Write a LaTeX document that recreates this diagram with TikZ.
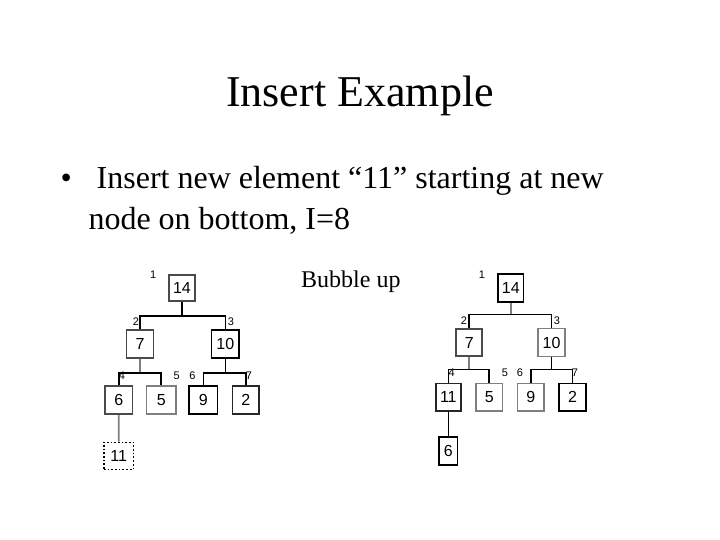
\documentclass[tikz,border=0pt]{standalone}
\usepackage{fontspec}
\setmainfont{Liberation Serif}
\newfontfamily\arialf{Liberation Sans}
\definecolor{lgray}{HTML}{7F7F7F}
\definecolor{mgray}{HTML}{4A4A4A}
\begin{document}
\begin{tikzpicture}[x=1pt,y=-1pt,
  box/.style={draw=black, line width=1.7pt, inner sep=0pt, minimum width=27.5pt, minimum height=28.5pt,
    font=\arialf\fontsize{16}{16}\selectfont},
  lbl/.style={inner sep=0pt, font=\arialf\fontsize{11}{11}\selectfont},
  edge/.style={line width=1.6pt, draw=black},
  gedge/.style={line width=1.6pt, draw=lgray}]
\useasboundingbox (0,0) rectangle (720,540);
% texts
\node[anchor=base, inner sep=0pt, font=\fontsize{44}{44}\selectfont] (title) at (360,107) {Insert Example};
\node[anchor=base west, inner sep=0pt, font=\fontsize{32}{32}\selectfont] (bul) at (60.5,189) {•};
\node[anchor=base west, inner sep=0pt, font=\fontsize{32}{32}\selectfont] (l1) at (96.5,188.5) {Insert new element “11” starting at new};
\node[anchor=base west, inner sep=0pt, font=\fontsize{32}{32}\selectfont] (l2) at (88.3,229.5) {node on bottom, I=8};
\node[anchor=base west, inner sep=0pt, font=\fontsize{24}{24}\selectfont] (bub) at (301,287) {Bubble up};
% left tree
\node[box, draw=mgray, minimum width=25.7pt, minimum height=26.6pt] (a14) at (182,288) {14};
\node[box, draw=mgray, minimum width=26.9pt, minimum height=28.3pt] (a7) at (140,344) {7};
\node[box, minimum width=27.6pt, minimum height=28.3pt] (a10) at (225.3,344) {10};
\node[box, draw=mgray, minimum width=27.3pt, minimum height=28.3pt] (a6) at (118.8,400) {6};
\node[box, draw=lgray, minimum width=29.3pt, minimum height=28.3pt] (a5) at (161.2,400) {5};
\node[box, minimum width=28.3pt, minimum height=28.3pt] (a9) at (203.3,400) {9};
\node[box, draw=black!85, minimum width=26.6pt, minimum height=28.3pt] (a2) at (245.8,400) {2};
\node[box, dotted, line width=1.2pt, minimum width=29.5pt, minimum height=27.1pt] (a11) at (118.7,455.8) {11};
\coordinate (ab1) at (182,316);
\coordinate (ab2) at (140,372.7);
\coordinate (ab3) at (225.3,372.7);
\draw[edge] (a14) -- (ab1);
\draw[edge] (a7.north) |- (ab1) -| (a10.north);
\draw[gedge] (a7) -- (ab2);
\draw[edge] (a6.north) |- (ab2) -| (a5.north);
\draw[edge] (a10) -- (ab3);
\draw[edge] (a9.north) |- (ab3) -| (a2.north);
\draw[gedge] (a6) -- (a11);
\node[lbl] (al1) at (153.3,275) {1};
\node[lbl] (al2) at (136,321.5) {2};
\node[lbl] (al3) at (231,321.5) {3};
\node[lbl] (al4) at (122,376) {4};
\node[lbl] (al5) at (176.7,376) {5};
\node[lbl] (al6) at (192.5,376) {6};
\node[lbl] (al7) at (249,376) {7};
% right tree
\node[box, minimum width=25.3pt, minimum height=27.7pt] (b14) at (510.8,288) {14};
\node[box, draw=mgray, line width=2pt, minimum width=26.3pt, minimum height=27.6pt] (b7) at (469.2,342.5) {7};
\node[box, draw=lgray, minimum width=26.7pt, minimum height=27.9pt] (b10) at (551.5,342.5) {10};
\node[box, draw=black!85, minimum width=25pt, minimum height=27.3pt] (b11) at (448.3,397.2) {11};
\node[box, draw=lgray, minimum width=26.6pt, minimum height=27.3pt] (b5) at (489.2,397.2) {5};
\node[box, draw=lgray, minimum width=26.6pt, minimum height=27.3pt] (b9) at (530.8,397.2) {9};
\node[box, minimum width=26.7pt, minimum height=27.3pt] (b2) at (572.5,397.2) {2};
\node[box, minimum width=18.3pt, minimum height=28.3pt] (b6) at (448.3,451) {6};
\coordinate (bb1) at (510.8,314.3);
\coordinate (bb2) at (469.2,369.3);
\coordinate (bb3) at (551.5,369.3);
\draw[gedge] (b14) -- (bb1);
\draw[edge] (b7.north) |- (bb1) -| (b10.north);
\draw[gedge] (b7) -- (bb2);
\draw[edge] (b11.north) |- (bb2) -| (b5.north);
\draw[edge] (b10) -- (bb3);
\draw[edge] (b9.north) |- (bb3) -| (b2.north);
\draw[edge] (b11) -- (b6);
\node[lbl] (bl1) at (482,275) {1};
\node[lbl] (bl2) at (464,320.7) {2};
\node[lbl] (bl3) at (557,320.7) {3};
\node[lbl] (bl4) at (451.7,373) {4};
\node[lbl] (bl5) at (505,373) {5};
\node[lbl] (bl6) at (520,373) {6};
\node[lbl] (bl7) at (575,373) {7};
\end{tikzpicture}
\end{document}
